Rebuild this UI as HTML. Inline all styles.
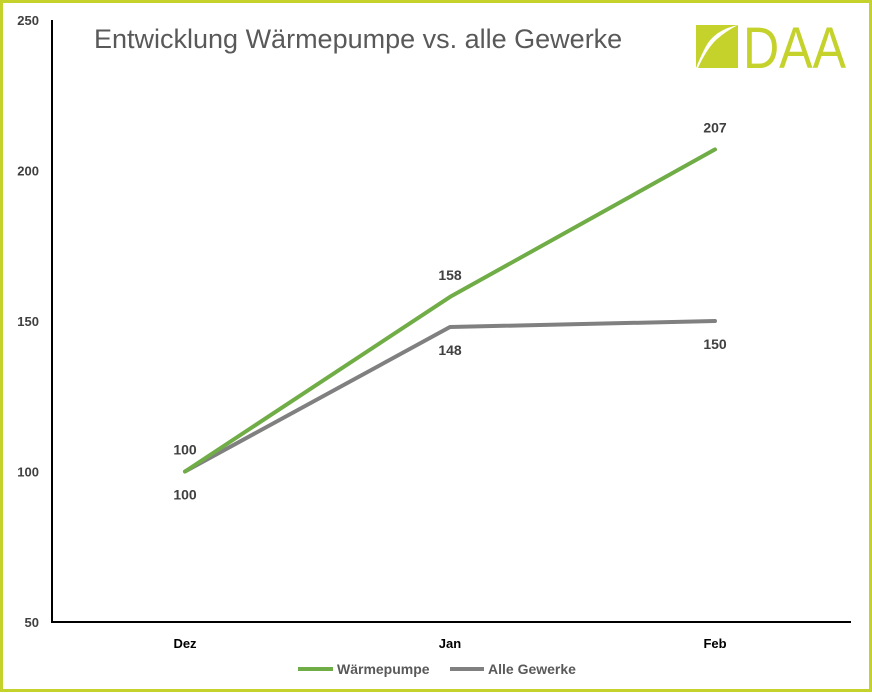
<!DOCTYPE html>
<html><head><meta charset="utf-8"><style>
body{margin:0;background:#fff;}
svg{display:block;font-family:"Liberation Sans",sans-serif;}
</style></head><body>
<svg id="chart" width="872" height="693">
<rect x="1.5" y="1.5" width="869" height="689" fill="#fff" stroke="#c5d22c" stroke-width="3"/>
<text x="94" y="48" font-size="27" fill="#595959">Entwicklung Wärmepumpe vs. alle Gewerke</text>
<g>
<path d="M696 25 H738 Q714 30 705 48 Q699 60 696 68 Z" fill="#c5d22c"/>
<path d="M738 25 V68 H698 Q706 50 716 40 Q726 31 738 25 Z" fill="#c5d22c"/>
<text x="743" y="68" font-size="58" fill="#c5d22c" textLength="103" lengthAdjust="spacingAndGlyphs">DAA</text>
</g>
<g id="axes"></g>
<g id="series"></g>
<g>
<line x1="298" y1="669" x2="333" y2="669" stroke="#70ad47" stroke-width="4"/>
<text x="337" y="674" font-size="14" fill="#595959" font-weight="bold">Wärmepumpe</text>
<line x1="450" y1="669" x2="484" y2="669" stroke="#808080" stroke-width="4"/>
<text x="488" y="674" font-size="14" fill="#595959" font-weight="bold">Alle Gewerke</text>
</g>
</svg>
<script>
const categories=["Dez","Jan","Feb"];
const waermepumpe=[100,158,207];
const alleGewerke=[100,148,150];
const yTicks=[50,100,150,200,250];
const NS="http://www.w3.org/2000/svg";
function y(v){return 622-(v-50)*(602/200);}
function x(i){return 185+i*265;}
function mk(tag,attrs,parent,txt){const e=document.createElementNS(NS,tag);for(const k in attrs)e.setAttribute(k,attrs[k]);if(txt!==undefined)e.textContent=txt;parent.appendChild(e);return e;}
const ax=document.getElementById('axes');
let l=mk('line',{x1:52,y1:20,x2:52,y2:622,stroke:'#000','stroke-width':2},ax);


l=mk('line',{x1:51,y1:622,x2:851,y2:622,stroke:'#000','stroke-width':2},ax);


yTicks.forEach(v=>{const t=mk('text',{x:39,y:y(v)+5,'font-size':13,'font-weight':'bold',fill:'#404040','text-anchor':'end'},ax,v);

});
categories.forEach((c,i)=>{const t=mk('text',{x:x(i),y:648,'font-size':13,'font-weight':'bold',fill:'#000','text-anchor':'middle'},ax,c);

});
const s=document.getElementById('series');
function draw(data,color,name,above){
const p=mk('polyline',{points:data.map((v,i)=>x(i)+','+y(v)).join(' '),fill:'none',stroke:color,'stroke-width':4,'stroke-linejoin':'round','stroke-linecap':'round'},s);


data.forEach((v,i)=>{const t=mk('text',{x:x(i),y:above?y(v)-17:y(v)+28,'font-size':14,'font-weight':'bold',fill:'#404040','text-anchor':'middle'},s,v);

});
}
draw(alleGewerke,'#808080','alle-gewerke',false);
draw(waermepumpe,'#70ad47','waermepumpe',true);
</script>
</body></html>
